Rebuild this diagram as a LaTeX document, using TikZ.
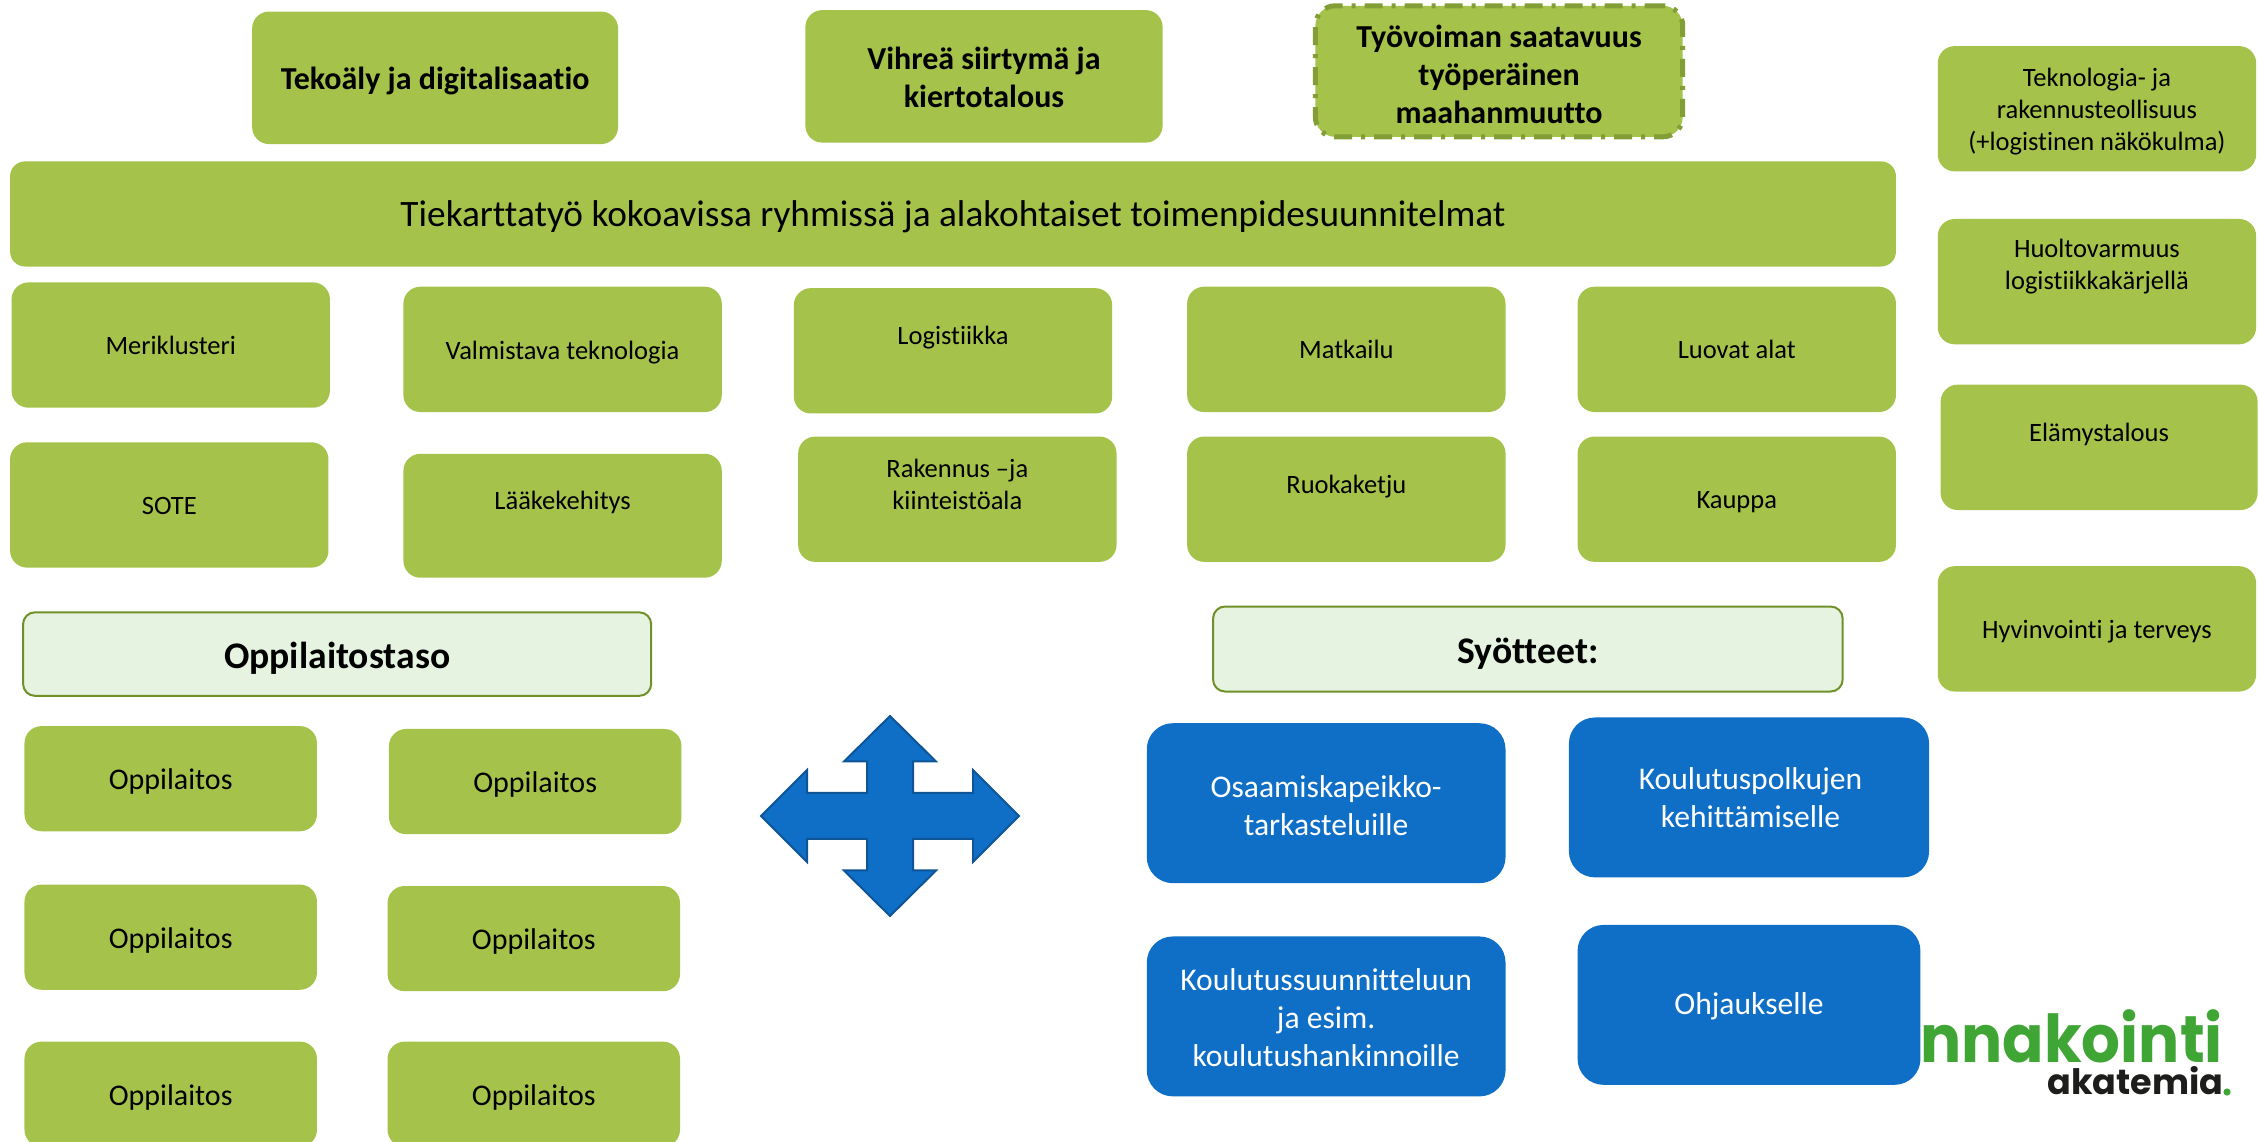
\documentclass[tikz,border=0pt]{standalone}
\usepackage{fontspec}
\setmainfont[Ligatures=NoCommon]{Carlito}
\newfontfamily\logofont{Poppins}
\definecolor{leaf}{HTML}{A5C34A}
\definecolor{leafdark}{HTML}{839E37}
\definecolor{pale}{HTML}{E5F3E0}
\definecolor{paleline}{HTML}{6F9128}
\definecolor{sea}{HTML}{0F6FC6}
\definecolor{seadark}{HTML}{0D5596}
\definecolor{logogreen}{HTML}{3FA535}
\definecolor{logoblack}{HTML}{1D1D1B}
\newcommand{\fs}[1]{\fontsize{#1pt}{#1pt}\selectfont}
\newcommand{\fsl}[2]{\fontsize{#1pt}{#2pt}\selectfont}
\tikzset{
  tile/.style={rounded corners=17pt,inner sep=0pt,outer sep=0pt},
  greentile/.style={tile,fill=leaf},
  bluetile/.style={tile,fill=sea,rounded corners=26pt},
  headtile/.style={tile,fill=pale,draw=paleline,line width=2pt,rounded corners=12pt},
  dashtile/.style={tile,fill=leaf,draw=leafdark,line width=5pt,rounded corners=20pt,dash pattern=on 18pt off 9pt on 4pt off 9pt},
  big/.style={tile,fill=leaf,rounded corners=15pt},
  txt/.style={align=center,inner sep=0pt,text=black},
  small/.style={txt,font=\fsl{26.5}{32}},
  topb/.style={txt,font=\fsl{32}{38}\bfseries},
  inst/.style={txt,font=\fs{30}},
  head/.style={txt,font=\fs{37.6}\bfseries},
  white/.style={txt,text=white,font=\fsl{31.6}{37.8}},
}
% name, box style, x1,y1,x2,y2, text style, text centre y offset, text
\newcommand{\bx}[9]{%
  \node[#2,minimum width={(#5-#3)*1.4407pt},minimum height={(#6-#4)*1.4407pt}] (#1) at ({(#3+#5)/2},{(#4+#6)/2}) {};
  \node[#7] (#1-t) at ([yshift={-(#8)*1.4407pt}]#1.center) {#9};
}
\begin{document}
\begin{tikzpicture}[x=1.4407pt,y=-1.4407pt]
\useasboundingbox (0,0) rectangle (1568,792);
\clip (0,0) rectangle (1568,792);
\bx{tek}{greentile}{175}{8}{429}{100}{topb}{2}{Tekoäly ja digitalisaatio}
\bx{vih}{greentile}{559}{7}{807}{99}{topb}{1}{Vihreä siirtymä ja\\kiertotalous}
\bx{tyo}{dashtile}{913}{4}{1168}{95}{topb}{2}{Työvoiman saatavuus\\työperäinen\\maahanmuutto}
\bx{road}{big}{7}{112}{1316}{185}{txt,font=\fs{37.3}}{2}{Tiekarttatyö kokoavissa ryhmissä ja alakohtaiset toimenpidesuunnitelmat}
\bx{mer}{greentile}{8}{196}{229}{283}{small}{0}{Meriklusteri}
\bx{val}{greentile}{280}{199}{501}{286}{small}{2}{Valmistava teknologia}
\bx{log}{greentile}{551}{200}{772}{287}{small}{-9}{Logistiikka}
\bx{mat}{greentile}{824}{199}{1045}{286}{small}{0}{Matkailu}
\bx{luo}{greentile}{1095}{199}{1316}{286}{small}{0}{Luovat alat}
\bx{sot}{greentile}{7}{307}{228}{394}{small}{1}{SOTE}
\bx{laa}{greentile}{280}{315}{501}{401}{small}{-9}{Lääkekehitys}
\bx{rak}{greentile}{554}{303}{775}{390}{small}{-10}{Rakennus –ja\\kiinteistöala}
\bx{ruo}{greentile}{824}{303}{1045}{390}{small}{-9}{Ruokaketju}
\bx{kau}{greentile}{1095}{303}{1316}{390}{small}{2}{Kauppa}
\bx{tte}{greentile}{1345}{32}{1566}{119}{small}{2}{Teknologia- ja\\rakennusteollisuus\\(+logistinen näkökulma)}
\bx{huo}{greentile}{1345}{152}{1566}{239}{small}{-10.5}{Huoltovarmuus\\logistiikkakärjellä}
\bx{ela}{greentile}{1347}{267}{1567}{354}{small}{-9}{Elämystalous}
\bx{hyv}{greentile}{1345}{393}{1566}{480}{small}{2}{Hyvinvointi ja terveys}
\bx{opt}{headtile}{16}{425}{452}{483}{head}{3}{Oppilaitostaso}
\bx{syo}{headtile}{842}{421}{1279}{480}{head}{3}{Syötteet:}
\bx{op1}{greentile}{17}{504}{220}{577}{inst}{2}{Oppilaitos}
\bx{op2}{greentile}{270}{506}{473}{579}{inst}{2}{Oppilaitos}
\bx{op3}{greentile}{17}{614}{220}{687}{inst}{2}{Oppilaitos}
\bx{op4}{greentile}{269}{615}{472}{688}{inst}{2}{Oppilaitos}
\bx{op5}{greentile}{17}{723}{220}{796}{inst}{2}{Oppilaitos}
\bx{op6}{greentile}{269}{723}{472}{796}{inst}{2}{Oppilaitos}
\bx{osa}{bluetile}{796}{502}{1045}{613}{white}{1.5}{Osaamiskapeikko-\\tarkasteluille}
\bx{kou}{bluetile}{1089}{498}{1339}{609}{white}{0}{\hspace*{3pt}Koulutuspolkujen\\\hspace*{3pt}kehittämiselle}
\bx{sun}{bluetile}{796}{650}{1045}{761}{white}{1}{Koulutussuunnitteluun\\ja esim.\\koulutushankinnoille}
\bx{ohj}{bluetile}{1095}{642}{1333}{753}{white}{1}{Ohjaukselle}
% four-way arrow (full-size pixel offsets scaled to this grid)
\begin{scope}[x=1pt,y=-1pt,shift={(890pt,-816pt)}]
\filldraw[fill=sea,draw=seadark,line width=2pt,line join=miter]
 (0,-100)--(46,-54.5)--(23,-54.5)--(23,-23)--(83,-23)--(83,-46)--(129,0)--(83,46)--(83,23)--(23,23)--(23,54.5)--(46,54.5)--(0,100)
 --(-46,54.5)--(-23,54.5)--(-23,23)--(-83,23)--(-83,46)--(-129,0)--(-83,-46)--(-83,-23)--(-23,-23)--(-23,-54.5)--(-46,-54.5)--cycle;
\end{scope}
% logo
\node[anchor=base east,inner sep=0pt,text=logogreen,font=\logofont\fs{66}\bfseries,xscale=0.925] (lg1) at (1543,737.8) {nnakointi};
\node[anchor=base east,inner sep=0pt,text=logoblack,font=\logofont\fs{35}\bfseries] (lg2) at (1543.5,760) {akatemia};
\fill[logogreen] (1545.8,758) circle (2.5);
\end{tikzpicture}
\end{document}
